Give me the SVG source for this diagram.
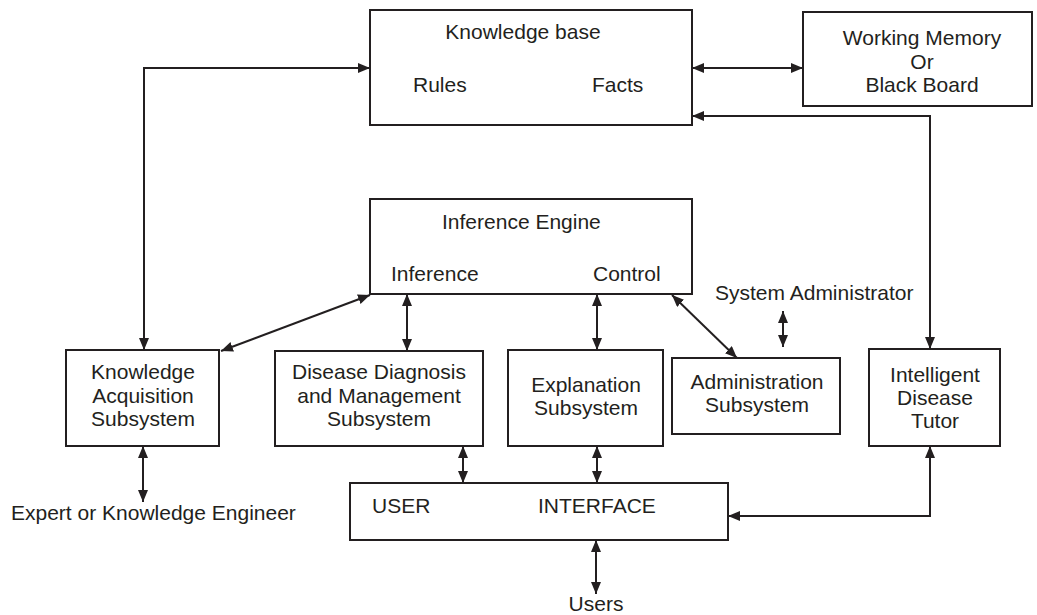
<svg xmlns="http://www.w3.org/2000/svg" width="1037" height="615" viewBox="0 0 1037 615">
<style>
.box{fill:#fff;stroke:#231f20;stroke-width:2}
.t{font-family:"Liberation Sans",Arial,sans-serif;font-size:21px;fill:#231f20}
.c{text-anchor:middle}
.ln{fill:none;stroke:#231f20;stroke-width:2;marker-end:url(#ah);marker-start:url(#ah)}
</style>
<defs>
<marker id="ah" viewBox="0 0 12 10" refX="12" refY="5" markerWidth="12" markerHeight="10" markerUnits="userSpaceOnUse" orient="auto-start-reverse">
<path d="M0,0 L12,5 L0,10 z" fill="#231f20"/>
</marker>
</defs>
<rect width="1037" height="615" fill="#fff"/>
<g id="connectors">
<path class="ln" d="M692,68 H803"/>
<path class="ln" d="M692,116 H930 V349"/>
<path class="ln" d="M370,68 H144 V350"/>
<path class="ln" d="M370,295 L221,351"/>
<path class="ln" d="M407,294 V351"/>
<path class="ln" d="M597,294 V350"/>
<path class="ln" d="M672,295 L737,358"/>
<path class="ln" d="M783,311 V347"/>
<path class="ln" d="M143,446 V502"/>
<path class="ln" d="M463,446 V483"/>
<path class="ln" d="M597,446 V483"/>
<path class="ln" d="M930,446 V516 H728"/>
<path class="ln" d="M596,540 V594"/>
</g>
<g id="knowledge-base">
<rect class="box" x="370" y="10" width="322" height="115"/>
<text class="t c" x="523" y="39">Knowledge base</text>
<text class="t" x="413" y="92">Rules</text>
<text class="t" x="592" y="92">Facts</text>
</g>
<g id="working-memory">
<rect class="box" x="803" y="12" width="229" height="94"/>
<text class="t c" x="922" y="45">Working Memory</text>
<text class="t c" x="922" y="69">Or</text>
<text class="t c" x="922" y="92">Black Board</text>
</g>
<g id="inference-engine">
<rect class="box" x="370" y="199" width="322" height="95"/>
<text class="t" x="442" y="229">Inference Engine</text>
<text class="t" x="391" y="281">Inference</text>
<text class="t" x="593" y="281">Control</text>
</g>
<g id="system-administrator">
<text class="t" x="715" y="300">System Administrator</text>
</g>
<g id="knowledge-acquisition">
<rect class="box" x="66" y="350" width="153" height="96"/>
<text class="t c" x="143" y="379">Knowledge</text>
<text class="t c" x="143" y="403">Acquisition</text>
<text class="t c" x="143" y="426">Subsystem</text>
</g>
<g id="disease-diagnosis">
<rect class="box" x="275" y="351" width="208" height="95"/>
<text class="t c" x="379" y="379">Disease Diagnosis</text>
<text class="t c" x="379" y="403">and Management</text>
<text class="t c" x="379" y="426">Subsystem</text>
</g>
<g id="explanation">
<rect class="box" x="508" y="350" width="155" height="96"/>
<text class="t c" x="586" y="392">Explanation</text>
<text class="t c" x="586" y="415">Subsystem</text>
</g>
<g id="administration">
<rect class="box" x="672" y="358" width="168" height="76"/>
<text class="t c" x="757" y="389">Administration</text>
<text class="t c" x="757" y="412">Subsystem</text>
</g>
<g id="tutor">
<rect class="box" x="869" y="349" width="131" height="97"/>
<text class="t c" x="935" y="382">Intelligent</text>
<text class="t c" x="935" y="405">Disease</text>
<text class="t c" x="935" y="428">Tutor</text>
</g>
<g id="expert">
<text class="t" x="11" y="520">Expert or Knowledge Engineer</text>
</g>
<g id="user-interface">
<rect class="box" x="350" y="483" width="378" height="57"/>
<text class="t" x="372" y="513">USER</text>
<text class="t" x="538" y="513">INTERFACE</text>
</g>
<g id="users">
<text class="t c" x="596" y="611">Users</text>
</g>
</svg>
